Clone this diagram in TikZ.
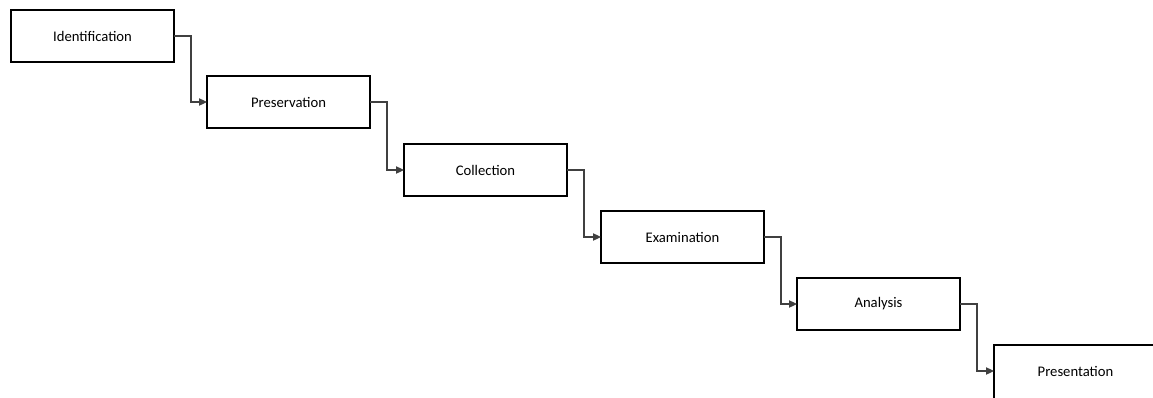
\documentclass[tikz,border=0pt]{standalone}
\usepackage{fontspec}
\setmainfont{Carlito}
\usetikzlibrary{arrows.meta}
\begin{document}
\begin{tikzpicture}[x=0.75pt,y=-0.75pt,
  stepbox/.style={draw=black,line width=0.8pt,minimum width=163*0.75pt,minimum height=52*0.75pt,inner sep=0pt,outer sep=0pt,anchor=north west,font=\fontsize{11pt}{13pt}\selectfont},
  conn/.style={draw=black!75,line width=0.8pt,-{Triangle[length=6pt,width=5.5pt]}}]
\useasboundingbox (0,0) rectangle (1153,397);
\clip (0,0) rectangle (1153,397);
\fill[white] (0,0) rectangle (1153,397);
\node[stepbox] (a) at (11,10) {Identification};
\node[stepbox] (b) at (207,76) {Preservation};
\node[stepbox] (c) at (404,144) {Collection};
\node[stepbox] (d) at (601,211) {Examination};
\node[stepbox] (e) at (797,278) {Analysis};
\node[stepbox,draw=none] (f) at (994,345) {Presentation};
\draw[black,line width=0.8pt] (f.north west) ++(0,70) -- (f.north west) -- ++(200,0);
\draw[conn] (a.east) -- ++(17,0) |- (b.west);
\draw[conn] (b.east) -- ++(17,0) |- (c.west);
\draw[conn] (c.east) -- ++(17,0) |- (d.west);
\draw[conn] (d.east) -- ++(17,0) |- (e.west);
\draw[conn] (e.east) -- ++(17,0) |- (f.west);
\end{tikzpicture}
\end{document}
